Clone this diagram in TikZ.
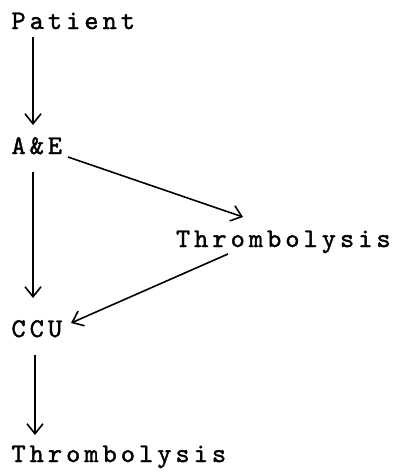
\documentclass[tikz,border=0pt]{standalone}
\usepackage{fontspec}
\newfontfamily\typewriter[Extension=.otf, LetterSpace=15, FakeBold=1.5]{lmmono10-regular}
\usetikzlibrary{arrows.meta}

\tikzset{
    stage/.style={anchor=base west, inner sep=0pt, outer sep=0pt, font=\typewriter\fontsize{27}{32}\selectfont},
    flow/.style={-{Straight Barb[length=10pt, width=16pt, line width=1.6pt]}, line width=1.6pt},
}

\begin{document}
\begin{tikzpicture}[x=1pt, y=-1pt]
    \useasboundingbox (0,0) rectangle (404,472);

    % Stages of care
    \node[stage] (patient) at (11.5,29) {Patient};
    \node[stage] (ae) at (11.5,154) {A\&E};
    \node[stage] (thromb) at (176,247) {Thrombolysis};
    \node[stage] (ccu) at (11.5,337) {CCU};
    \node[stage] (thrombccu) at (11.5,462) {Thrombolysis};

    % Connections
    \draw[flow] ([xshift=21.5pt, yshift=-8pt]patient.base west) -- ([xshift=21.5pt, yshift=29pt]ae.base west);
    \draw[flow] ([xshift=21.5pt, yshift=-18pt]ae.base west) -- ([xshift=21.5pt, yshift=39pt]ccu.base west);
    \draw[flow] ([xshift=56.5pt, yshift=-3pt]ae.base west) -- ([xshift=67pt, yshift=30pt]thromb.base west);
    \draw[flow] ([xshift=52pt, yshift=-7pt]thromb.base west) -- ([xshift=59.5pt, yshift=14pt]ccu.base west);
    \draw[flow] ([xshift=23.5pt, yshift=-18pt]ccu.base west) -- ([xshift=23.5pt, yshift=27pt]thrombccu.base west);
\end{tikzpicture}
\end{document}
